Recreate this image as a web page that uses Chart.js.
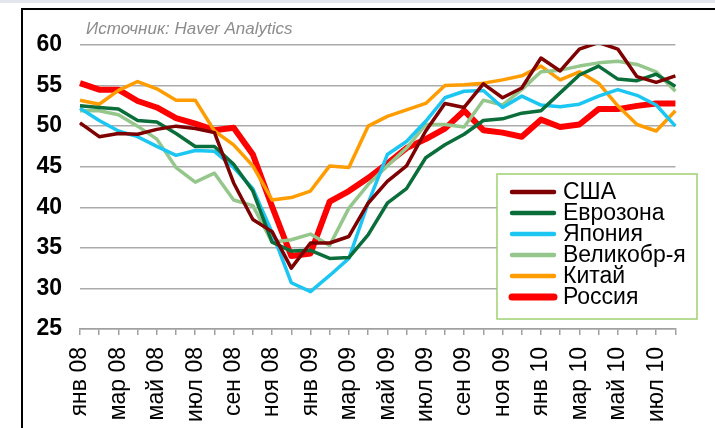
<!DOCTYPE html>
<html>
<head>
<meta charset="utf-8">
<script src="https://cdn.jsdelivr.net/npm/chart.js@4/dist/chart.umd.min.js"></script>
<style>
  body { margin: 0; background: #fff; }
  #wrap { position: relative; width: 715px; height: 428px; overflow: hidden; }
  #strip { position: absolute; left: 0; top: 0; width: 715px; height: 3px; background: #e4e6ee; }
  #frame { position: absolute; left: 21px; top: 8px; width: 800px; height: 500px;
           border-left: 2px solid #000; border-top: 2px solid #000; }
  #pmiChart { position: absolute; left: 0; top: 0; }
</style>
</head>
<body>
<div id="wrap">
  <div id="strip"></div>
  <div id="frame"></div>
  <canvas id="pmiChart" width="715" height="428"></canvas>
</div>
<script>
const months = ["янв 08","фев 08","мар 08","апр 08","май 08","июн 08","июл 08","авг 08",
                "сен 08","окт 08","ноя 08","дек 08","янв 09","фев 09","мар 09","апр 09",
                "май 09","июн 09","июл 09","авг 09","сен 09","окт 09","ноя 09","дек 09",
                "янв 10","фев 10","мар 10","апр 10","май 10","июн 10","июл 10","авг 10"];

const usa      = [50.4, 48.7, 49.1, 49.0, 49.6, 50.0, 49.7, 49.2, 43.0, 38.5, 37.0, 32.5,
                  35.6, 35.6, 36.4, 40.5, 43.2, 45.1, 49.4, 52.8, 52.3, 55.2, 53.5, 54.7,
                  58.4, 56.8, 59.5, 60.3, 59.5, 56.1, 55.4, 56.2];
const eurozone = [52.5, 52.3, 52.1, 50.7, 50.5, 49.1, 47.5, 47.5, 45.3, 42.0, 35.7, 34.6,
                  34.7, 33.7, 33.8, 36.6, 40.5, 42.3, 46.1, 47.7, 49.0, 50.7, 50.9, 51.6,
                  51.9, 54.1, 56.3, 57.4, 55.8, 55.6, 56.4, 54.9];
const japan    = [52.2, 50.7, 49.4, 48.7, 47.5, 46.4, 47.0, 46.9, 44.9, 42.3, 36.9, 30.7,
                  29.6, 31.6, 33.7, 40.5, 46.5, 48.1, 50.6, 53.5, 54.3, 54.4, 52.3, 53.7,
                  52.6, 52.4, 52.7, 53.7, 54.5, 53.8, 52.6, 50.0];
const uk       = [51.9, 51.9, 51.4, 50.0, 48.4, 44.9, 43.1, 44.2, 40.9, 40.2, 35.7, 36.0,
                  36.7, 35.3, 39.9, 42.8, 45.1, 47.3, 50.2, 50.2, 49.9, 53.2, 52.6, 54.5,
                  56.7, 56.9, 57.4, 57.8, 58.0, 57.6, 56.7, 54.3];
const china    = [53.2, 52.7, 54.4, 55.5, 54.6, 53.2, 53.2, 49.4, 47.7, 45.1, 40.9, 41.2,
                  42.0, 45.1, 44.9, 50.0, 51.2, 52.0, 52.8, 55.0, 55.1, 55.3, 55.7, 56.2,
                  57.4, 55.7, 56.7, 55.3, 52.5, 50.2, 49.4, 51.9];
const russia   = [55.3, 54.5, 54.5, 53.1, 52.3, 51.0, 50.3, 49.5, 49.8, 46.5, 40.1, 34.0,
                  34.3, 40.7, 42.0, 43.6, 45.4, 47.3, 48.4, 49.7, 51.9, 49.5, 49.2, 48.7,
                  50.8, 49.9, 50.2, 52.1, 52.1, 52.5, 52.8, 52.8];

const yTicks = [25, 30, 35, 40, 45, 50, 55, 60];
const sourceNote = "Источник: Haver Analytics";

function series(label, data, color, width) {
  return { label, data, borderColor: color, backgroundColor: color, borderWidth: width,
           pointRadius: 0, tension: 0, fill: false, borderJoinStyle: 'round' };
}

// legend box + source note drawn on top of the plot
const overlay = {
  id: 'overlay',
  afterDraw(chart) {
    const c = chart.ctx;
    c.save();
    c.font = 'italic 17px "Liberation Sans", Arial, sans-serif';
    c.fillStyle = '#8c8c8c';
    c.textBaseline = 'middle';
    c.fillText(sourceNote, 86, 29);

    const bx = 497, by = 174, bw = 200, bh = 145;
    c.fillStyle = '#fff';
    c.fillRect(bx, by, bw, bh);
    c.strokeStyle = '#9fd06f';
    c.lineWidth = 1.5;
    c.strokeRect(bx, by, bw, bh);

    c.font = '23px "Liberation Sans", Arial, sans-serif';
    c.lineCap = 'round';
    chart.data.datasets.forEach((ds, i) => {
      const y = 192 + i * 21;
      c.strokeStyle = ds.borderColor;
      c.lineWidth = ds.borderWidth + 1;
      c.beginPath();
      c.moveTo(512, y);
      c.lineTo(554, y);
      c.stroke();
      c.fillStyle = '#000';
      c.fillText(ds.label, 563, y + 1);
    });
    c.restore();
  }
};

const ctx = document.getElementById('pmiChart').getContext('2d');

const pmiChart = new Chart(ctx, {
  type: 'line',
  data: {
    labels: months,
    datasets: [
      series("США", usa, "#7f0000", 3.5),
      series("Еврозона", eurozone, "#0a6e3a", 3.5),
      series("Япония", japan, "#1cc6f2", 3.5),
      series("Великобр-я", uk, "#95c68b", 3.5),
      series("Китай", china, "#ff9c00", 3.5),
      series("Россия", russia, "#ff0000", 6)
    ]
  },
  options: {
    responsive: false,
    animation: false,
    devicePixelRatio: 1,
    layout: { padding: { top: 45, right: 18, left: 0, bottom: 0 } },
    plugins: { legend: { display: false }, tooltip: { enabled: false } },
    scales: {
      x: {
        offset: false,
        afterFit: (s) => { s.height = 99; },
        grid: { drawOnChartArea: false, drawTicks: true, tickLength: 6, color: '#a0a0a0', lineWidth: 1.5, offset: false },
        border: { color: '#a0a0a0', width: 1.5 },
        ticks: {
          autoSkip: false, minRotation: 90, maxRotation: 90, padding: 12,
          color: '#000',
          font: { family: '"Liberation Sans", Arial, sans-serif', size: 23 },
          callback: (v, i) => (i % 2 === 0 ? months[i] : '')
        }
      },
      y: {
        min: yTicks[0],
        max: yTicks[yTicks.length - 1],
        afterFit: (s) => { s.width = 80; },
        afterBuildTicks: (s) => { s.ticks = yTicks.map(v => ({ value: v })); },
        grid: { drawTicks: false, color: '#ababab', lineWidth: 1.5 },
        border: { display: false },
        ticks: {
          padding: 18, color: '#000',
          font: { family: '"Liberation Sans", Arial, sans-serif', size: 23, weight: 'bold' }
        }
      }
    }
  },
  plugins: [overlay]
});
</script>
</body>
</html>
